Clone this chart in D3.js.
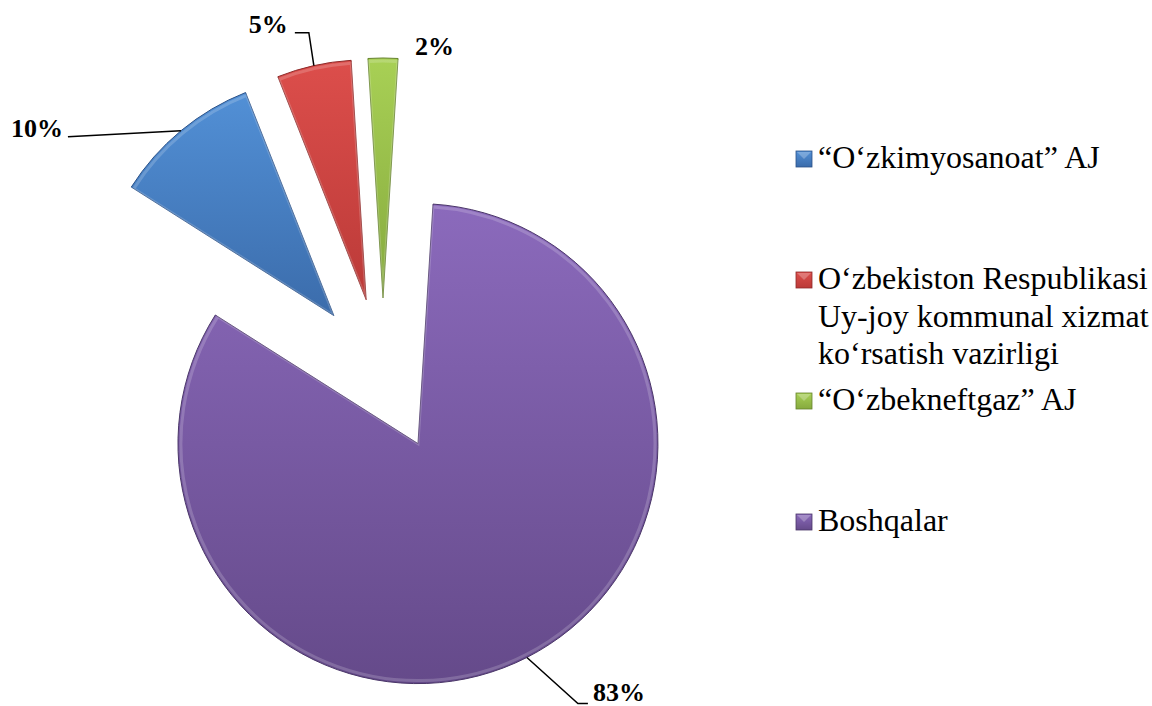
<!DOCTYPE html>
<html>
<head>
<meta charset="utf-8">
<script src="https://cdn.jsdelivr.net/npm/d3@7"></script>
</head>
<body style="margin:0">
<script>
// data
const categories = ['“O‘zkimyosanoat” AJ', 'O‘zbekiston Respublikasi Uy-joy kommunal xizmat ko‘rsatish vazirligi', '“O‘zbekneftgaz” AJ', 'Boshqalar'];
const legendLines = [
    ['“O‘zkimyosanoat” AJ'],
    ['O‘zbekiston Respublikasi', 'Uy-joy kommunal xizmat', 'ko‘rsatish vazirligi'],
    ['“O‘zbekneftgaz” AJ'],
    ['Boshqalar']
];
const values = [10, 5, 2, 83];
const pctLabels = ['10%', '5%', '2%', '83%'];

// look
const fontFamily = 'Liberation Serif';
const colorsTop = ['#5290d6', '#dc4e4b', '#a8d055', '#8b6abc'];
const colorsBottom = ['#3b6cab', '#bb3a38', '#86aa3e', '#654a8a'];
const colorsEdge = ['#2c5288', '#8e2a29', '#65822c', '#4a3668'];

// layout
const width = 1152;
const height = 706;
const cx = 383, cy = 375;
const radius = 240;
const explode = 77;
const startDeg = -57.6;
// label placement relative to the outer mid point of each slice
const labelLayout = [
    { dx: -118, dy: 6, anchor: 'end', line: [[-113, 6]] },
    { dx: -26, dy: -33, anchor: 'end', line: [[-5, -33], [-19, -33]] },
    { dx: 32, dy: -3, anchor: 'start', line: null },
    { dx: 66, dy: 44, anchor: 'start', line: [[51, 46], [61, 46]] }
];

const svg = d3.select('body')
    .append('svg')
    .attr('width', width)
    .attr('height', height);

const defs = svg.append('defs');
values.forEach((v, i) => {
    const g = defs.append('linearGradient')
        .attr('id', 'grad' + i)
        .attr('x1', 0).attr('y1', 0)
        .attr('x2', 0).attr('y2', 1);
    g.append('stop').attr('offset', '0%').attr('stop-color', colorsTop[i]);
    g.append('stop').attr('offset', '100%').attr('stop-color', colorsBottom[i]);
});

const toRad = Math.PI / 180;
const pie = d3.pie()
    .sort(null)
    .value(d => d)
    .startAngle(startDeg * toRad)
    .endAngle((startDeg + 360) * toRad);

const arc = d3.arc()
    .innerRadius(0)
    .outerRadius(radius);

const bevel = d3.arc()
    .innerRadius(0)
    .outerRadius(radius - 3);

const arcs = pie(values);

const midAngle = d => (d.startAngle + d.endAngle) / 2;
const apex = d => {
    const a = midAngle(d);
    return [cx + explode * Math.sin(a), cy - explode * Math.cos(a)];
};
const outerMid = d => {
    const a = midAngle(d);
    const p = apex(d);
    return [p[0] + radius * Math.sin(a), p[1] - radius * Math.cos(a)];
};

const slices = svg.append('g')
    .selectAll('g')
    .data(arcs)
    .enter()
    .append('g')
    .attr('transform', d => 'translate(' + apex(d)[0] + ',' + apex(d)[1] + ')');

slices.append('path')
    .attr('d', arc)
    .attr('fill', (d, i) => 'url(#grad' + i + ')')
    .attr('stroke', (d, i) => colorsEdge[i])
    .attr('stroke-width', 1)
    .attr('stroke-linejoin', 'round');

// soft inner highlight for the bevel look
slices.append('path')
    .attr('d', bevel)
    .attr('fill', 'none')
    .attr('stroke', '#fff')
    .attr('stroke-opacity', 0.18)
    .attr('stroke-width', 3);

// percentage labels and leader lines
const labelGroup = svg.append('g');
arcs.forEach((d, i) => {
    const m = outerMid(d);
    const L = labelLayout[i];
    if (L.line) {
        const pts = [[m[0], m[1]]].concat(L.line.map(p => [m[0] + p[0], m[1] + p[1]]));
        labelGroup.append('path')
            .attr('d', d3.line()(pts))
            .attr('fill', 'none')
            .attr('stroke', '#000')
            .attr('stroke-width', 1.5);
    }
    labelGroup.append('text')
        .attr('x', m[0] + L.dx)
        .attr('y', m[1] + L.dy)
        .attr('text-anchor', L.anchor)
        .attr('font-family', fontFamily)
        .attr('font-weight', 'bold')
        .attr('font-size', 26)
        .text(pctLabels[i]);
});

// legend
const legendY = d3.scalePoint()
    .domain(categories)
    .range([151, 514]);

const legend = svg.append('g')
    .selectAll('g')
    .data(categories)
    .enter()
    .append('g')
    .attr('transform', d => 'translate(796,' + legendY(d) + ')');

legend.append('rect')
    .attr('width', 16)
    .attr('height', 16)
    .attr('fill', (d, i) => 'url(#grad' + i + ')')
    .attr('stroke', (d, i) => colorsEdge[i])
    .attr('stroke-width', 0.8);

legend.append('path')
    .attr('d', 'M1,1L15,1L8,8Z')
    .attr('fill', '#fff')
    .attr('fill-opacity', 0.25);

legend.each(function (d, i) {
    const t = d3.select(this).append('text')
        .attr('x', 22)
        .attr('y', 17)
        .attr('font-family', fontFamily)
        .attr('font-size', 32);
    legendLines[i].forEach((line, j) => {
        t.append('tspan')
            .attr('x', 22)
            .attr('dy', j === 0 ? 0 : 37.5)
            .text(line);
    });
});
</script>
</body>
</html>
